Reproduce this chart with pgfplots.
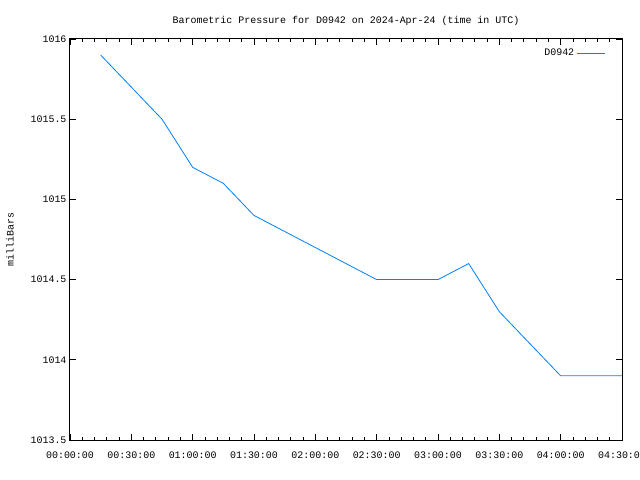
\documentclass[border=0pt]{standalone}
\usepackage{pgfplots}
\pgfplotsset{compat=1.18}
\usepackage{fontspec}
\setmainfont{Liberation Mono}
\definecolor{linec}{RGB}{0,128,255}
\begin{document}
\fontsize{10}{11}\selectfont
\begin{tikzpicture}
\begin{axis}[
  name=ax,
  scale only axis,
  width=552bp, height=401bp,
  xmin=0, xmax=270, ymin=1013.5, ymax=1016,
  xtick={0,30,...,270},
  xticklabels={00:00:00,00:30:00,01:00:00,01:30:00,02:00:00,02:30:00,03:00:00,03:30:00,04:00:00,04:30:00},
  ytick={1013.5,1014,1014.5,1015,1015.5,1016},
  yticklabels={1013.5,1014,1014.5,1015,1015.5,1016},
  minor x tick num=4,
  tick align=inside,
  major tick length=6bp, minor tick length=3bp,
  axis line style={line width=1bp},
  tick style={line width=0.8bp, black},
  every tick label/.append style={font=\fontsize{10}{11}\selectfont},
  xticklabel style={yshift=-8bp},
  title={Barometric Pressure for D0942 on 2024-Apr-24 (time in UTC)},
  title style={yshift=4bp},
  ylabel={milliBars},
  ylabel style={yshift=10bp},
  legend style={draw=none, fill=none, at={(0.975,0.985)}, anchor=north east, font=\fontsize{10}{11}\selectfont},
  legend plot pos=right,
  legend cell align=right,
  legend image code/.code={\draw[#1] (0bp,0bp) -- (28bp,0bp);},
]
\addplot[color=linec, line width=0.8bp] coordinates {
(15,1015.9) (30,1015.7) (45,1015.5) (60,1015.2) (75,1015.1) (90,1014.9)
(105,1014.8) (120,1014.7) (135,1014.6) (150,1014.5) (165,1014.5) (180,1014.5)
(195,1014.6) (210,1014.3) (225,1014.1) (240,1013.9) (255,1013.9) (270,1013.9)
};
\addlegendentry{D0942}
\end{axis}
\pgfresetboundingbox
\path[use as bounding box] ([shift={(-70bp,-40bp)}]ax.south west) rectangle ++(640bp,480bp);
\end{tikzpicture}
\end{document}
